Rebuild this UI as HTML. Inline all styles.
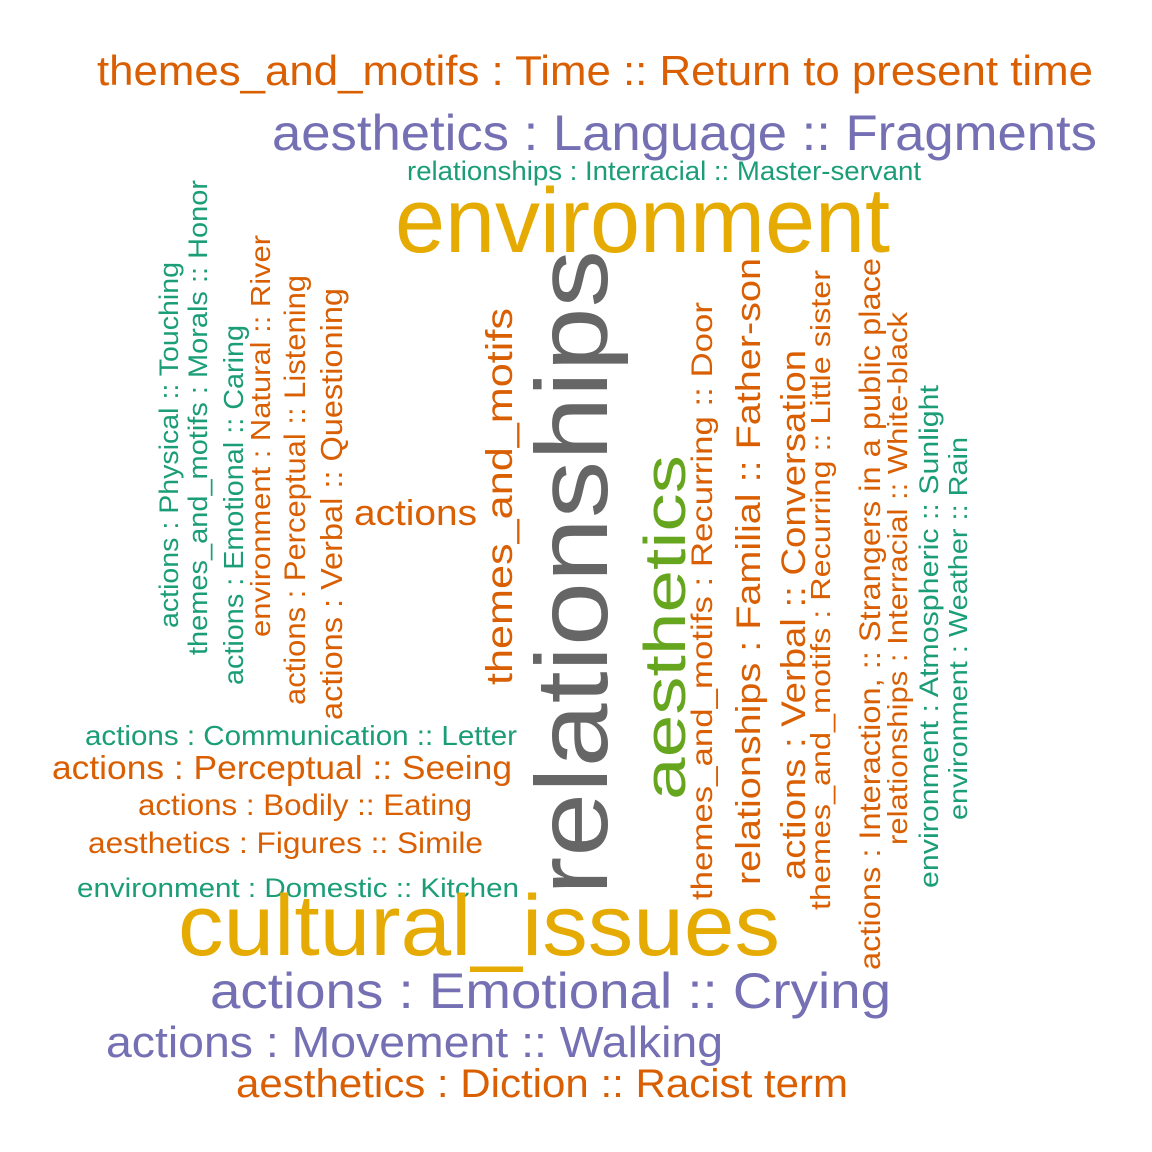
<!DOCTYPE html>
<html><head><meta charset="utf-8"><style>
html,body{margin:0;padding:0;background:#fff;}
svg{display:block;}
text{font-family:"Liberation Sans",Arial,sans-serif;}
</style></head><body>
<svg width="1152" height="1152" viewBox="0 0 1152 1152">
<rect width="1152" height="1152" fill="#fff"/>
<g lengthAdjust="spacingAndGlyphs">
<text x="97" y="85" font-size="42" fill="#D95F02" textLength="996" lengthAdjust="spacingAndGlyphs">themes_and_motifs : Time :: Return to present time</text>
<text x="272" y="150" font-size="50" fill="#7570B3" textLength="825" lengthAdjust="spacingAndGlyphs">aesthetics : Language :: Fragments</text>
<text x="407" y="180" font-size="27" fill="#1B9E77" textLength="514" lengthAdjust="spacingAndGlyphs">relationships : Interracial :: Master-servant</text>
<text x="395" y="252" font-size="92" fill="#E6AB02" textLength="495" lengthAdjust="spacingAndGlyphs">environment</text>
<text x="354" y="525" font-size="36" fill="#D95F02" textLength="123" lengthAdjust="spacingAndGlyphs">actions</text>
<text x="85" y="745" font-size="28" fill="#1B9E77" textLength="432" lengthAdjust="spacingAndGlyphs">actions : Communication :: Letter</text>
<text x="52" y="779" font-size="33" fill="#D95F02" textLength="460" lengthAdjust="spacingAndGlyphs">actions : Perceptual :: Seeing</text>
<text x="138" y="815" font-size="30" fill="#D95F02" textLength="334" lengthAdjust="spacingAndGlyphs">actions : Bodily :: Eating</text>
<text x="88" y="853" font-size="30" fill="#D95F02" textLength="395" lengthAdjust="spacingAndGlyphs">aesthetics : Figures :: Simile</text>
<text x="77" y="897" font-size="27" fill="#1B9E77" textLength="442" lengthAdjust="spacingAndGlyphs">environment : Domestic :: Kitchen</text>
<text x="178" y="955" font-size="86" fill="#E6AB02" textLength="602" lengthAdjust="spacingAndGlyphs">cultural_issues</text>
<text x="210" y="1008" font-size="50" fill="#7570B3" textLength="681" lengthAdjust="spacingAndGlyphs">actions : Emotional :: Crying</text>
<text x="106" y="1057" font-size="44" fill="#7570B3" textLength="617" lengthAdjust="spacingAndGlyphs">actions : Movement :: Walking</text>
<text x="236" y="1097" font-size="40" fill="#D95F02" textLength="612" lengthAdjust="spacingAndGlyphs">aesthetics : Diction :: Racist term</text>

<text transform="translate(607,895) rotate(-90)" font-size="102" fill="#666666" textLength="645" lengthAdjust="spacingAndGlyphs">relationships</text>
<text transform="translate(178,628) rotate(-90)" font-size="27" fill="#1B9E77" textLength="366" lengthAdjust="spacingAndGlyphs">actions : Physical :: Touching</text>
<text transform="translate(207,655) rotate(-90)" font-size="27" fill="#1B9E77" textLength="475" lengthAdjust="spacingAndGlyphs">themes_and_motifs : Morals :: Honor</text>
<text transform="translate(243,685) rotate(-90)" font-size="28" fill="#1B9E77" textLength="360" lengthAdjust="spacingAndGlyphs">actions : Emotional :: Caring</text>
<text transform="translate(270,637) rotate(-90)" font-size="28" fill="#D95F02" textLength="402" lengthAdjust="spacingAndGlyphs">environment : Natural :: River</text>
<text transform="translate(305,705) rotate(-90)" font-size="30" fill="#D95F02" textLength="430" lengthAdjust="spacingAndGlyphs">actions : Perceptual :: Listening</text>
<text transform="translate(342,720) rotate(-90)" font-size="31" fill="#D95F02" textLength="432" lengthAdjust="spacingAndGlyphs">actions : Verbal :: Questioning</text>
<text transform="translate(512,685) rotate(-90)" font-size="37" fill="#D95F02" textLength="377" lengthAdjust="spacingAndGlyphs">themes_and_motifs</text>
<text transform="translate(685,800) rotate(-90)" font-size="58" fill="#66A61E" textLength="345" lengthAdjust="spacingAndGlyphs">aesthetics</text>
<text transform="translate(712,900) rotate(-90)" font-size="30" fill="#D95F02" textLength="598" lengthAdjust="spacingAndGlyphs">themes_and_motifs : Recurring :: Door</text>
<text transform="translate(760,885) rotate(-90)" font-size="34" fill="#D95F02" textLength="627" lengthAdjust="spacingAndGlyphs">relationships : Familial :: Father-son</text>
<text transform="translate(805,880) rotate(-90)" font-size="34" fill="#D95F02" textLength="530" lengthAdjust="spacingAndGlyphs">actions : Verbal :: Conversation</text>
<text transform="translate(830,910) rotate(-90)" font-size="28" fill="#D95F02" textLength="640" lengthAdjust="spacingAndGlyphs">themes_and_motifs : Recurring :: Little sister</text>
<text transform="translate(880,970) rotate(-90)" font-size="30" fill="#D95F02" textLength="712" lengthAdjust="spacingAndGlyphs">actions : Interaction, :: Strangers in a public place</text>
<text transform="translate(907,845) rotate(-90)" font-size="28" fill="#D95F02" textLength="533" lengthAdjust="spacingAndGlyphs">relationships : Interracial :: White-black</text>
<text transform="translate(938,888) rotate(-90)" font-size="27" fill="#1B9E77" textLength="503" lengthAdjust="spacingAndGlyphs">environment : Atmospheric :: Sunlight</text>
<text transform="translate(967,820) rotate(-90)" font-size="26" fill="#1B9E77" textLength="383" lengthAdjust="spacingAndGlyphs">environment : Weather :: Rain</text>
</g>
</svg>
</body></html>
